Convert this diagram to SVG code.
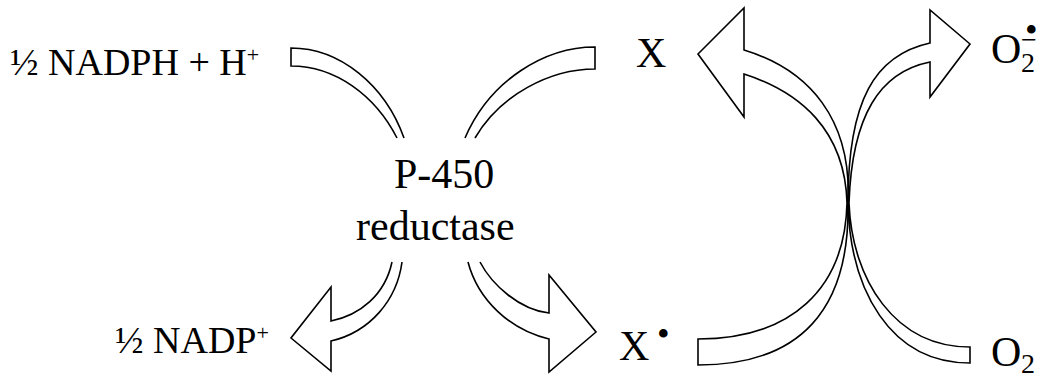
<svg xmlns="http://www.w3.org/2000/svg" width="1040" height="378" viewBox="0 0 1040 378">
<style>
  .lbl { font-family: "Liberation Serif", "Times New Roman", serif; fill: #000; }
  .big { font-size: 42px; }
  .med { font-size: 38px; }
  .sub { font-size: 28px; }
  .sup { font-size: 22px; }
  .dot { font-size: 36px; }
  .arr { fill: none; stroke: #000; stroke-width: 1.6; stroke-linejoin: miter; }
</style>
<rect width="1040" height="378" fill="#fff"/>
<g id="connectors">
  <path class="arr" d="M404,138 C385,85 340,48 291,48 L291,66 C335,66 375,95 397,138"/>
  <path class="arr" d="M465,138 C490,80 545,47 595,47 L595,69 C550,69 500,95 475,138"/>
  <path class="arr" d="M392,262 C385,295 360,315 331,321 L331,287 L291,338 L331,371 L331,341 C370,332 397,300 402,262"/>
  <path class="arr" d="M480,262 C492,285 520,310 549,313 L549,275 L596,332 L549,372 L549,339 C510,330 478,300 468,262"/>
  <path class="arr" d="M698,339 C790,339 845,290 847,203 C845,130 800,92 744,74 L744,117 L698,54 L744,8 L744,50 C810,70 852,120 848,203 C850,310 800,365 698,365 Z"/>
  <path class="arr" d="M970,347 C895,347 852,280 849,203 C852,115 880,72 930,62 L930,97 L970,44 L930,10 L930,43 C875,55 848,100 848,203 C850,290 890,363 970,363 Z"/>
</g>
<g id="nadph">
  <text class="lbl med" x="10" y="75">½ NADPH + H<tspan class="sup" dy="-13">+</tspan></text>
</g>
<g id="nadp">
  <text class="lbl med" x="115" y="353">½ NADP<tspan class="sup" dy="-13">+</tspan></text>
</g>
<g id="reductase">
  <text class="lbl big" x="394" y="188">P-450</text>
  <text class="lbl big" x="356" y="240">reductase</text>
</g>
<g id="x">
  <text class="lbl big" x="636" y="67">X</text>
</g>
<g id="xrad">
  <text class="lbl big" x="619" y="360">X<tspan class="dot" x="657" y="346">•</tspan></text>
</g>
<g id="superoxide">
  <text class="lbl big" x="991" y="63">O<tspan class="sub" x="1021" y="72">2</tspan><tspan class="sub" x="1021" y="49">−</tspan><tspan class="dot" x="1025" y="42">•</tspan></text>
</g>
<g id="o2">
  <text class="lbl big" x="991" y="366">O<tspan class="sub" x="1021" y="373">2</tspan></text>
</g>
</svg>
